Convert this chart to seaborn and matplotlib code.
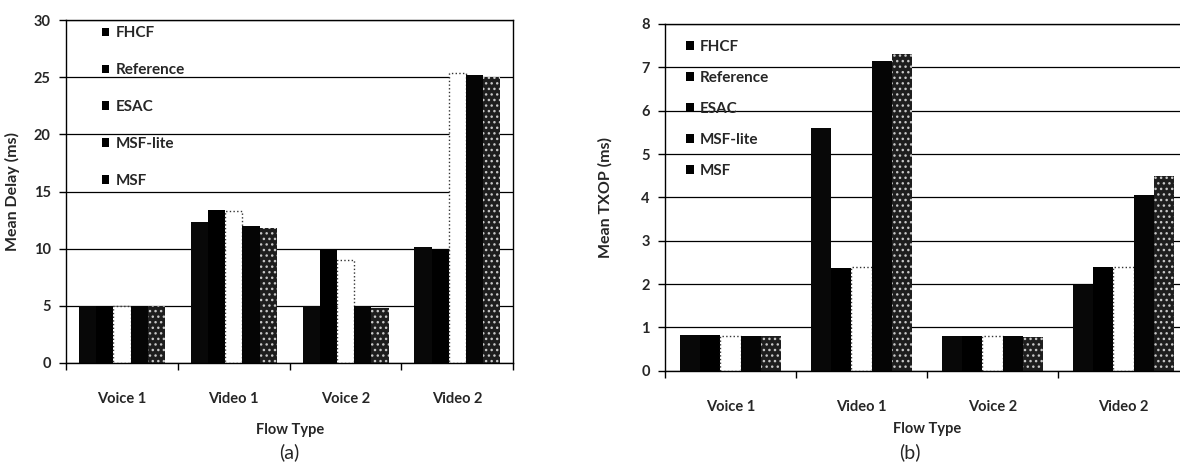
import numpy as np
import pandas as pd
import seaborn as sns
import matplotlib.pyplot as plt
from matplotlib.patches import Patch

# Values
flows = ['Voice 1', 'Video 1', 'Voice 2', 'Video 2']
schemes = ['FHCF', 'Reference', 'ESAC', 'MSF-lite', 'MSF']

# (a) mean delay, ms
delay_fhcf = [5.0, 12.3, 5.0, 10.1]
delay_reference = [5.0, 13.4, 10.0, 10.0]
delay_esac = [5.0, 13.3, 9.0, 25.4]
delay_msf_lite = [5.0, 12.0, 5.0, 25.2]
delay_msf = [5.0, 11.8, 4.8, 25.0]

# (b) mean TXOP, ms
txop_fhcf = [0.83, 5.6, 0.8, 1.97]
txop_reference = [0.83, 2.37, 0.8, 2.4]
txop_esac = [0.8, 2.4, 0.8, 2.4]
txop_msf_lite = [0.8, 7.15, 0.8, 4.05]
txop_msf = [0.8, 7.3, 0.78, 4.5]

bar_colors = ['#080808', '#000000', '#ffffff', '#050505', '#1e1e1e']


def to_frame(*series):
    """
    Builds a long-form frame (flow, scheme, value) from one list per scheme.
    """
    rows = []
    for scheme, values in zip(schemes, series):
        for flow, v in zip(flows, values):
            rows.append({'Flow Type': flow, 'Scheme': scheme, 'Value': v})
    return pd.DataFrame(rows)


def panel(ax, data, ylabel, ymax, ystep, letter, spacing, anchor, letter_x,
          ylabelpad, xlabelpad):
    """
    Draws one grouped bar panel in the style of the Excel original.
    """
    sns.barplot(data=data, x='Flow Type', y='Value', hue='Scheme',
                hue_order=schemes, order=flows, palette=bar_colors,
                saturation=1, width=0.77, gap=0, linewidth=0, ax=ax,
                legend=False)
    # white ESAC bars only show their dotted outline, MSF bars are speckled
    for patch in ax.containers[2]:
        patch.set_edgecolor('#333333')
        patch.set_linestyle(':')
        patch.set_linewidth(1.0)
    for patch in ax.containers[4]:
        patch.set_hatch('...')
        patch.set_edgecolor('#c8c8c8')

    ax.set_xlim(-0.5, 3.5)
    ax.set_ylim(0, ymax)
    ax.set_yticks(np.arange(0, ymax + 0.01, ystep))
    ax.set_xticks(np.arange(-0.5, 4, 1), minor=True)
    ax.tick_params(axis='x', which='major', length=0, pad=21)
    ax.tick_params(axis='x', which='minor', bottom=True, length=5,
                   direction='out', width=1, color='black')
    ax.tick_params(axis='y', left=True, length=5, direction='out', width=1,
                   color='black', pad=6)
    for lab in ax.get_xticklabels() + ax.get_yticklabels():
        lab.set_fontweight('bold')
        lab.set_fontsize(10.5)
    ax.yaxis.grid(True, color='black', linewidth=0.9)
    ax.set_axisbelow(True)
    for side in ax.spines.values():
        side.set_color('black')
        side.set_linewidth(1.0)
    ax.set_xlabel('Flow Type', fontweight='bold', fontsize=10.5,
                  labelpad=xlabelpad)
    ax.set_ylabel(ylabel, fontweight='bold', fontsize=11.5,
                  labelpad=ylabelpad)

    handles = [Patch(facecolor='black', edgecolor='none') for _ in schemes]
    ax.legend(handles, schemes, loc='upper left', bbox_to_anchor=anchor,
              frameon=False, labelspacing=spacing,
              handlelength=0.5, handleheight=0.5, handletextpad=0.4,
              borderpad=0, borderaxespad=0,
              prop={'weight': 'bold', 'size': 11})
    ax.figure.text(letter_x, 0.025, letter, ha='center', fontsize=14)


def main():
    sns.set_theme(style='white')
    plt.rcParams['font.family'] = ['Lato', 'DejaVu Sans']

    fig = plt.figure(figsize=(11.8, 4.7), dpi=100)
    ax1 = fig.add_axes([0.056, 0.228, 0.379, 0.729])
    ax2 = fig.add_axes([0.5636, 0.211, 0.444, 0.738])

    panel(ax1, to_frame(delay_fhcf, delay_reference, delay_esac,
                        delay_msf_lite, delay_msf),
          'Mean Delay (ms)', 30, 5, '(a)', 1.5, (0.08, 0.982), 0.245,
          10, 12)
    panel(ax2, to_frame(txop_fhcf, txop_reference, txop_esac,
                        txop_msf_lite, txop_msf),
          'Mean TXOP (ms)', 8, 1, '(b)', 1.12, (0.04, 0.955), 0.771,
          21, 6)

    fig.savefig('out.png', dpi=100)


if __name__ == '__main__':
    main()
